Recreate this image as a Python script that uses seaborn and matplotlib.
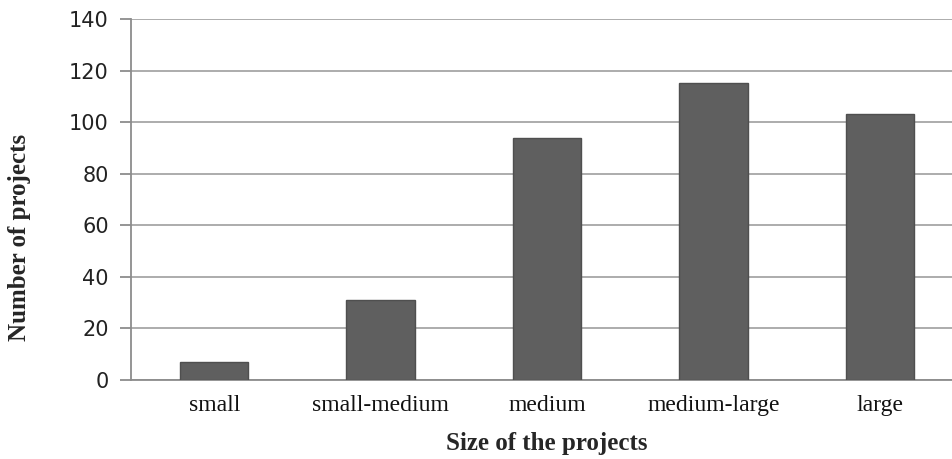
import matplotlib
matplotlib.use("Agg")
import matplotlib.pyplot as plt
import seaborn as sns
import pandas as pd

categories = ["small", "small-medium", "medium", "medium-large", "large"]
projects = [7, 31, 94, 115, 103]
y_ticks = [0, 20, 40, 60, 80, 100, 120, 140]

df = pd.DataFrame({"size": categories, "count": projects})

sns.set_style("white")
fig = plt.figure(figsize=(9.52, 4.59), dpi=100)
ax = fig.add_axes([0.1376, 0.172, 0.874, 0.7866])

sns.barplot(data=df, x="size", y="count", order=categories, color="#5f5f5f",
            saturation=1, width=0.41, edgecolor="#4f4f4f", linewidth=1, ax=ax,
            zorder=3)

ax.set_ylim(0, 140)
ax.set_yticks(y_ticks)
ax.set_yticklabels([str(t) for t in y_ticks], fontsize=15, family="DejaVu Sans",
                   color="#222222")
ax.yaxis.grid(True, color="#a6a6a6", linewidth=1.3, zorder=0)
ax.set_axisbelow(True)

for side in ("top", "right"):
    ax.spines[side].set_visible(False)
for side in ("left", "bottom"):
    ax.spines[side].set_color("#8c8c8c")
    ax.spines[side].set_linewidth(1.3)

ax.tick_params(axis="y", length=8, width=1.3, color="#8c8c8c", pad=8, left=True)
ax.tick_params(axis="x", length=0, pad=11)
for lbl in ax.get_xticklabels():
    lbl.set_fontfamily("Liberation Serif")
    lbl.set_fontsize(17)
    lbl.set_color("#111111")

ax.set_xlabel("Size of the projects", fontsize=18, fontweight="bold",
              family="Liberation Serif")
ax.set_ylabel("Number of projects", fontsize=18, fontweight="bold",
              family="Liberation Serif")
ax.xaxis.set_label_coords(0.5, -0.145)
ax.yaxis.set_label_coords(-0.12, 0.396)

fig.savefig("out.png", dpi=100)
